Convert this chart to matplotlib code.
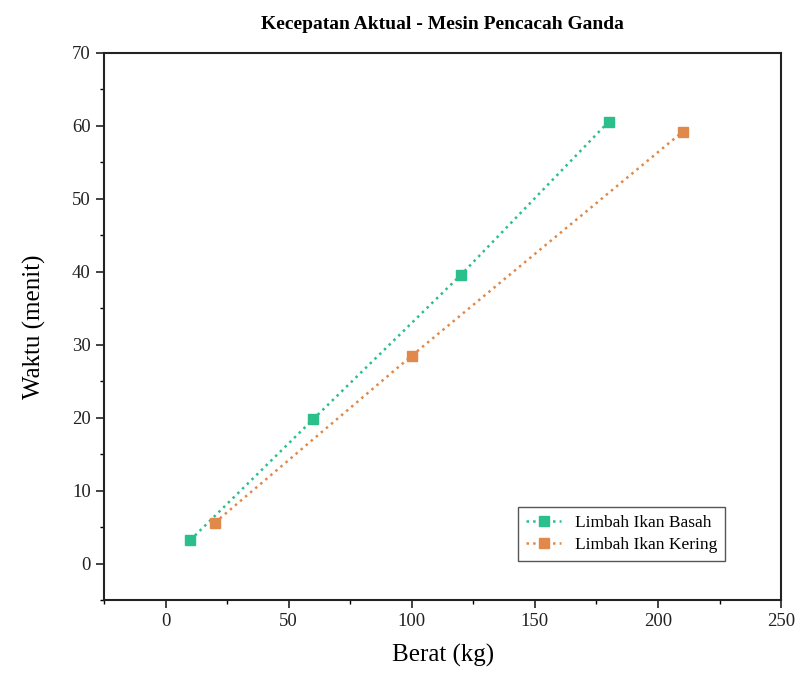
import matplotlib.pyplot as plt
from matplotlib.ticker import MultipleLocator

plt.rcParams['font.family'] = ['Liberation Serif', 'DejaVu Serif']

# data
berat_basah = [10, 60, 120, 180]
waktu_basah = [3.2, 19.8, 39.6, 60.6]
berat_kering = [20, 100, 210]
waktu_kering = [5.6, 28.5, 59.2]

hijau = '#2bbf8c'
oranye = '#e0894a'

fig = plt.figure(figsize=(8.02, 6.91), dpi=100)
ax = fig.add_axes([0.1297, 0.1317, 0.8443, 0.7916])

ax.plot(berat_basah, waktu_basah, linestyle=':', linewidth=1.8, color=hijau,
        marker='s', markersize=7.5, label='Limbah Ikan Basah')
ax.plot(berat_kering, waktu_kering, linestyle=':', linewidth=1.8, color=oranye,
        marker='s', markersize=7.5, label='Limbah Ikan Kering')

ax.set_xlim(-25, 250)
ax.set_ylim(-5, 70)
ax.xaxis.set_major_locator(MultipleLocator(50))
ax.xaxis.set_minor_locator(MultipleLocator(25))
ax.yaxis.set_major_locator(MultipleLocator(10))
ax.yaxis.set_minor_locator(MultipleLocator(5))

ax.tick_params(which='major', direction='out', length=6, width=1.2, labelsize=13.5, colors='#222222')
ax.tick_params(which='minor', direction='out', length=3, width=1.0)
for s in ax.spines.values():
    s.set_linewidth(1.5)
    s.set_color('#222222')

ax.set_title('Kecepatan Aktual - Mesin Pencacah Ganda', fontsize=14, fontweight='bold', pad=17)
ax.set_xlabel('Berat (kg)', fontsize=18, labelpad=10)
ax.set_ylabel('Waktu (menit)', fontsize=18, labelpad=19)

leg = ax.legend(loc='lower right', bbox_to_anchor=(0.93, 0.055), fontsize=12.5,
                fancybox=False, edgecolor='#555555', framealpha=1,
                handlelength=2.0, borderpad=0.45, labelspacing=0.35)
leg.get_frame().set_linewidth(1.0)

fig.savefig('out.png', dpi=100)
